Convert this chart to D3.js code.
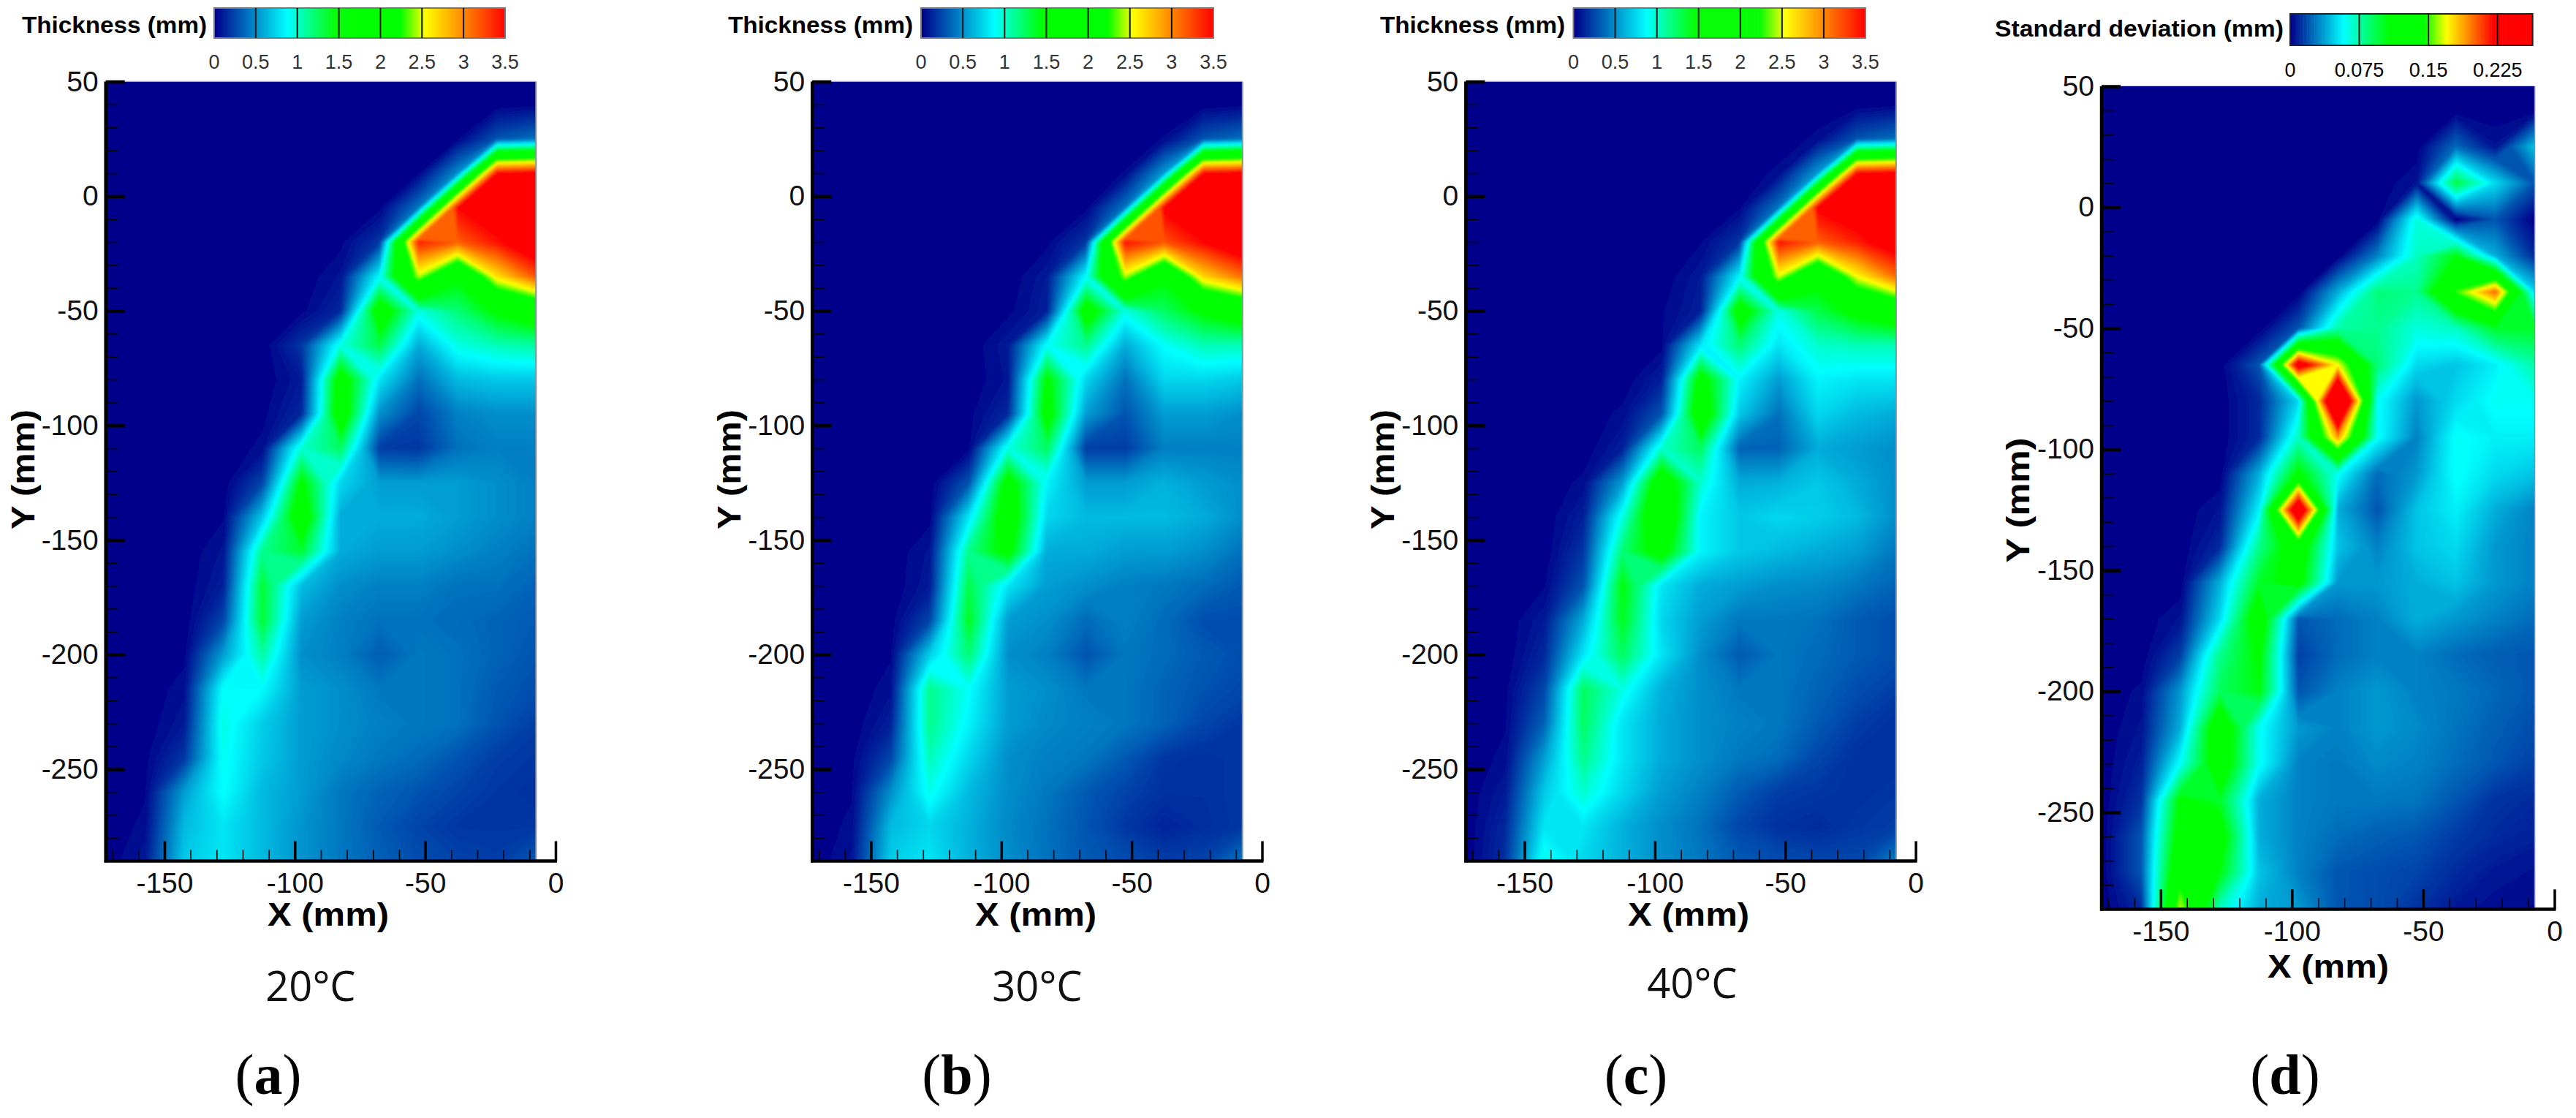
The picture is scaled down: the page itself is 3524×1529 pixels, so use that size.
<!DOCTYPE html>
<html><head><meta charset="utf-8">
<script src="https://cdn.jsdelivr.net/npm/d3@7"></script>
<style>html,body{margin:0;padding:0;background:#fff}svg{display:block}</style>
</head><body><svg id="c" width="3524" height="1529"></svg>
<script>
// Node positions of the measurement grid (mm)
const gridX = [-172.5,-157.5,-142.5,-127.5,-112.5,-97.5,-82.5,-67.5,-52.5,-37.5,-22.5,-7.5];
const gridY = [55,40,25,10,-5,-20,-35,-50,-65,-80,-95,-110,-125,-140,-155,-170,-185,-200,-215,-230,-245,-260,-275,-290];

const thickness20 = [
[0,0,0,0,0,0,0,0,0,0,0,0],
[0,0,0,0,0,0,0,0,0,0,0,.02],
[0,0,0,0,0,0,0,0,0,.03,.3,.4],
[0,0,0,0,0,0,0,0,.03,.5,3.5,3.6],
[0,0,0,0,0,0,0,.02,.42,3.5,3.7,3.8],
[0,0,0,0,0,0,.02,.2,3.4,3.15,3.45,3.8],
[0,0,0,0,0,0,.08,.88,2.45,1.5,2.65,3.2],
[0,0,0,0,0,.02,.15,1.7,.95,1.2,1.5,1.7],
[0,0,0,0,0,.2,.95,1.3,.6,.95,1.05,1.1],
[0,0,0,0,0,.1,1.65,.8,.4,.65,.7,.7],
[0,0,0,0,.02,.15,1.7,.5,.25,.45,.5,.5],
[0,0,0,0,.05,1.0,1.25,.22,.2,.4,.45,.45],
[0,0,0,0,.25,1.5,.75,.55,.55,.55,.5,.45],
[0,0,0,.03,.7,1.7,.6,.6,.6,.55,.5,.45],
[0,0,0,.08,1.15,1.35,.6,.55,.55,.5,.45,.4],
[0,0,0,.12,1.35,.66,.5,.45,.45,.4,.4,.35],
[0,0,0,.25,1.35,.55,.45,.4,.4,.38,.35,.32],
[0,0,.02,.55,1.1,.5,.45,.33,.42,.4,.35,.3],
[0,0,.06,.9,.88,.55,.5,.42,.42,.4,.32,.28],
[0,0,.1,.95,.72,.55,.5,.45,.42,.4,.3,.22],
[0,.02,.2,.92,.7,.55,.48,.42,.38,.3,.22,.2],
[0,.03,.55,.9,.65,.55,.42,.35,.3,.24,.2,.18],
[0,.05,.65,.8,.65,.52,.42,.32,.24,.2,.2,.2],
[0,.1,.7,.8,.65,.52,.42,.34,.28,.24,.22,.32]];

const thickness30 = [
[0,0,0,0,0,0,0,0,0,0,0,0],
[0,0,0,0,0,0,0,0,0,0,0,.02],
[0,0,0,0,0,0,0,0,0,.04,.3,.4],
[0,0,0,0,0,0,0,0,.04,.55,3.5,3.6],
[0,0,0,0,0,0,0,.02,.42,3.55,3.7,3.8],
[0,0,0,0,0,0,.02,.2,3.45,3.2,3.5,3.8],
[0,0,0,0,0,0,.1,.88,2.45,1.5,2.7,3.1],
[0,0,0,0,0,.02,.12,1.65,.95,1.25,1.5,1.7],
[0,0,0,0,0,.1,.9,1.15,.6,.9,1.05,1.05],
[0,0,0,0,0,.08,1.5,.75,.4,.75,.75,.7],
[0,0,0,0,.02,.15,1.6,.55,.3,.55,.55,.5],
[0,0,0,0,.02,.95,1.25,.22,.22,.45,.45,.45],
[0,0,0,0,.3,1.6,.85,.55,.55,.62,.55,.5],
[0,0,0,.02,.8,1.7,.75,.65,.65,.65,.6,.5],
[0,0,0,.08,1.15,1.55,.6,.6,.55,.55,.5,.4],
[0,0,0,.1,1.3,.8,.55,.5,.45,.42,.38,.32],
[0,0,.01,.25,1.4,.55,.5,.38,.45,.38,.28,.28],
[0,0,.03,.72,1.2,.5,.45,.3,.42,.38,.32,.28],
[0,0,.06,1.15,.9,.55,.5,.42,.42,.35,.3,.25],
[0,0,.12,1.15,.85,.55,.48,.45,.42,.35,.25,.2],
[0,.02,.25,1.05,.75,.5,.45,.42,.32,.2,.18,.2],
[0,.03,.5,.93,.65,.5,.42,.32,.24,.18,.18,.2],
[0,.05,.65,.75,.62,.48,.4,.3,.2,.14,.17,.2],
[0,.08,.72,.8,.62,.5,.4,.32,.28,.22,.24,.42]];

const thickness40 = [
[0,0,0,0,0,0,0,0,0,0,0,0],
[0,0,0,0,0,0,0,0,0,0,0,.02],
[0,0,0,0,0,0,0,0,0,.05,.3,.4],
[0,0,0,0,0,0,0,0,.05,.55,3.5,3.6],
[0,0,0,0,0,0,0,.03,.42,3.55,3.7,3.8],
[0,0,0,0,0,0,.03,.2,3.45,3.15,3.4,3.7],
[0,0,0,0,0,0,.1,.85,2.5,1.55,2.55,3.1],
[0,0,0,0,0,.03,.12,1.65,.95,1.3,1.55,1.75],
[0,0,0,0,0,.02,.8,1.2,.8,1.0,1.05,1.05],
[0,0,0,0,0,.12,1.6,.85,.55,.85,.8,.8],
[0,0,0,0,.05,.3,1.75,.7,.4,.75,.65,.6],
[0,0,0,0,.12,1.0,1.25,.35,.35,.6,.55,.5],
[0,0,0,.05,.55,1.75,1.0,.6,.62,.7,.6,.5],
[0,0,0,.12,.95,1.85,.85,.7,.75,.72,.65,.5],
[0,0,0,.2,1.2,1.6,.85,.7,.65,.6,.55,.42],
[0,0,.03,.3,1.45,.8,.6,.55,.5,.48,.42,.35],
[0,0,.1,.6,1.4,.75,.55,.42,.42,.4,.32,.28],
[0,0,.15,.8,1.25,.8,.5,.32,.42,.38,.32,.28],
[0,.02,.25,1.25,.95,.62,.5,.42,.42,.35,.28,.22],
[0,.03,.35,1.25,.8,.6,.5,.45,.42,.32,.22,.18],
[0,.05,.55,1.15,.8,.6,.5,.42,.38,.25,.18,.18],
[0,.1,.7,1.0,.75,.55,.45,.32,.22,.2,.18,.2],
[0,.15,.8,.8,.62,.5,.4,.25,.18,.16,.2,.22],
[0,.18,.95,.75,.62,.5,.42,.32,.28,.25,.25,.45]];

const stdDev = [
[0,0,0,0,0,0,0,0,0,0,0,0],
[0,0,0,0,0,0,0,0,0,0,0,0],
[0,0,0,0,0,0,0,0,0,.025,.005,.045],
[0,0,0,0,0,0,0,0,.005,.095,.05,.02],
[0,0,0,0,0,0,0,0,.065,0,.02,0],
[0,0,0,0,0,0,0,.03,.07,.105,.04,.01],
[0,0,0,0,0,0,.04,.085,.08,.15,.2,.05],
[0,0,0,0,0,.02,.075,.08,.065,.07,.1,.1],
[0,0,0,0,.02,.24,.17,.085,.05,.045,.055,.075],
[0,0,0,0,.01,.05,.3,.06,.035,.05,.06,.06],
[0,0,0,0,.01,.07,.19,.06,.03,.06,.055,.055],
[0,0,0,0,.04,.11,.06,.025,.035,.06,.05,.045],
[0,0,0,.005,.055,.26,.04,.02,.045,.055,.04,.03],
[0,0,0,.01,.08,.125,.045,.03,.045,.05,.035,.03],
[0,0,0,.04,.1,.115,.035,.035,.04,.045,.035,.03],
[0,0,.005,.05,.125,.02,.025,.03,.04,.035,.03,.025],
[0,0,.015,.08,.11,.015,.025,.03,.03,.025,.022,.02],
[0,.003,.035,.09,.105,.02,.03,.035,.03,.028,.024,.02],
[0,.005,.04,.13,.06,.035,.03,.035,.032,.027,.022,.018],
[0,.008,.06,.125,.06,.03,.028,.032,.03,.025,.02,.015],
[0,.012,.11,.1,.04,.03,.028,.028,.027,.02,.012,.01],
[0,.02,.12,.12,.04,.03,.025,.022,.02,.014,.01,.008],
[0,.02,.135,.105,.045,.03,.02,.018,.016,.01,.006,.004],
[0,.01,.165,.07,.04,.035,.02,.018,.012,.006,.003,.002]];

// Colour maps and colour-bar ticks
const thickStops = [0,.875,1.45,2.23,2.53,3.5];
const sdStops = [0,.0575,.107,.145,.169,.22];
const mapColors = ["#00008a","#00ffff","#00ff00","#00ff00","#ffff00","#ff0000"];
const thickTicks = [0,.5,1,1.5,2,2.5,3,3.5];
const sdTicks = [0,.075,.15,.225];
const xMajor = [-150,-100,-50,0];
const yMajor = [50,0,-50,-100,-150,-200,-250];
const xMinor = d3.range(-170,0,10).filter(v=>v%50!==0);
const yMinor = d3.range(40,-290,-10).filter(v=>v%50!==0);

const panels = [
 {data:thickness20,stops:thickStops,ticks:thickTicks,barMax:3.5,title:"Thickness (mm)",cap:"20°C",tag:"a",
  x0:144.7,xz:760,y50:111.6,ym250:1052,barL:293,barR:691,barT:11,barB:52,titleL:30,titleW:253,titleY:45,tickY:94,
  ylabX:47,ylabY:642,ylabL:164,xlabX:449,xlabY:1266,xtY:1221,capX:425,capY:1369,tagX:367,blur:1.8},
 {data:thickness30,stops:thickStops,ticks:thickTicks,barMax:3.5,title:"Thickness (mm)",cap:"30°C",tag:"b",
  x0:1111.2,xz:1726.5,y50:111.6,ym250:1052,barL:1260,barR:1660,barT:11,barB:52,titleL:996,titleW:253,titleY:45,tickY:94,
  ylabX:1013,ylabY:642,ylabL:164,xlabX:1417,xlabY:1266,xtY:1221,capX:1419,capY:1369,tagX:1309,blur:1.8},
 {data:thickness40,stops:thickStops,ticks:thickTicks,barMax:3.5,title:"Thickness (mm)",cap:"40°C",tag:"c",
  x0:2005.3,xz:2620.6,y50:111.6,ym250:1052,barL:2152.5,barR:2552,barT:11,barB:52,titleL:1888,titleW:253,titleY:45,tickY:94,
  ylabX:1907,ylabY:642,ylabL:164,xlabX:2310,xlabY:1266,xtY:1221,capX:2315,capY:1365,tagX:2238,blur:1.8},
 {data:stdDev,stops:sdStops,ticks:sdTicks,barMax:.263,title:"Standard deviation (mm)",cap:null,tag:"d",
  x0:2875,xz:3494.5,y50:118,ym250:1111,barL:3133,barR:3464.6,barT:19,barB:62,titleL:2729,titleW:395,titleY:50,tickY:105,
  ylabX:2776,ylabY:684,ylabL:171,xlabX:3185,xlabY:1337,xtY:1287,capX:0,capY:0,tagX:3126,blur:1}
];

const svg = d3.select("#c");
const defs = svg.append("defs");
const SANS = "'Liberation Sans',Arial,sans-serif";

panels.forEach((p,pi)=>{
  const g = svg.append("g");
  const x = d3.scaleLinear().domain([-172.5,0]).range([p.x0,p.xz]);
  const y = d3.scaleLinear().domain([50,-250]).range([p.y50,p.ym250]);
  const color = d3.scaleLinear().domain(p.stops).range(mapColors).clamp(true);

  const W = gridX.length, H = gridY.length;
  const values = p.data.flat();
  const top = p.stops[p.stops.length-1];
  const LEVELS = 300;
  const thresholds = d3.range(1,LEVELS+1).map(i=>top*i/LEVELS*1.02);
  const contours = d3.contours().size([W,H]).thresholds(thresholds)(values);
  const dx = gridX[1]-gridX[0], dy = gridY[1]-gridY[0];
  const path = d3.geoPath(d3.geoTransform({point(cx,cy){
    this.stream.point(x(gridX[0]+(cx-.5)*dx), y(gridY[0]+(cy-.5)*dy));
  }}));
  const yBottom = y(-290), xRight = x(-7.5);

  defs.append("clipPath").attr("id","clip"+pi).append("rect")
    .attr("x",p.x0).attr("y",p.y50).attr("width",xRight-p.x0).attr("height",yBottom-p.y50);
  defs.append("filter").attr("id","blur"+pi).attr("filterUnits","userSpaceOnUse")
    .attr("x",p.x0-40).attr("y",p.y50-40).attr("width",xRight-p.x0+80).attr("height",yBottom-p.y50+80)
    .append("feGaussianBlur").attr("stdDeviation",p.blur);

  const plot = g.append("g").attr("clip-path",`url(#clip${pi})`).append("g").attr("filter",`url(#blur${pi})`);
  plot.append("rect").attr("x",p.x0-30).attr("y",p.y50-30).attr("width",xRight-p.x0+60).attr("height",yBottom-p.y50+60).attr("fill",color(0));
  plot.selectAll("path").data(contours).join("path").attr("d",path)
    .attr("fill",(d,i)=>color(d.value-(thresholds[1]-thresholds[0])/2)).attr("stroke","none");

  // thin frame on the right and top edge
  g.append("line").attr("x1",xRight).attr("x2",xRight).attr("y1",p.y50).attr("y2",yBottom).attr("stroke","#8a8f99").attr("stroke-width",pi==3?1.5:2);
  g.append("line").attr("x1",p.x0).attr("x2",xRight).attr("y1",p.y50-.5).attr("y2",p.y50-.5).attr("stroke","#c4c8e0").attr("stroke-width",1);

  // axes
  const styleAxis = sel=>{
    sel.selectAll("text").attr("font-family",SANS).attr("font-size",39).attr("fill","#111");
    sel.select(".domain").remove();
  };
  g.append("g").attr("transform",`translate(${p.x0},0)`)
    .call(d3.axisLeft(y).tickValues(yMinor).tickSize(-17).tickFormat(""))
    .call(s=>{s.select(".domain").remove();s.selectAll("line").attr("stroke","#000").attr("stroke-width",1.6);});
  g.append("g").attr("transform",`translate(${p.x0},0)`)
    .call(d3.axisLeft(y).tickValues(yMajor).tickSize(-26).tickPadding(10).tickFormat(String))
    .call(styleAxis).call(s=>s.selectAll("line").attr("stroke","#000").attr("stroke-width",4.5));
  g.append("g").attr("transform",`translate(0,${yBottom})`)
    .call(d3.axisBottom(x).tickValues(xMinor).tickSize(-15).tickFormat(""))
    .call(s=>{s.select(".domain").remove();s.selectAll("line").attr("stroke","#000").attr("stroke-width",1.6);});
  g.append("g").attr("transform",`translate(0,${yBottom})`)
    .call(d3.axisBottom(x).tickValues(xMajor).tickSize(-27).tickPadding(p.xtY-yBottom-28).tickFormat(String))
    .call(styleAxis).call(s=>s.selectAll("line").attr("stroke","#000").attr("stroke-width",3.5));
  g.append("line").attr("x1",p.x0).attr("x2",p.x0).attr("y1",p.y50).attr("y2",yBottom+2).attr("stroke","#000").attr("stroke-width",4.5);
  g.append("line").attr("x1",p.x0-2).attr("x2",p.xz+2).attr("y1",yBottom).attr("y2",yBottom).attr("stroke","#000").attr("stroke-width",4.5);

  // axis titles
  g.append("text").attr("x",p.xlabX).attr("y",p.xlabY).attr("text-anchor","middle")
    .attr("font-family",SANS).attr("font-weight","bold").attr("font-size",44)
    .attr("textLength",166).attr("lengthAdjust","spacingAndGlyphs").text("X (mm)");
  g.append("text").attr("transform",`translate(${p.ylabX},${p.ylabY}) rotate(-90)`).attr("text-anchor","middle")
    .attr("font-family",SANS).attr("font-weight","bold").attr("font-size",44)
    .attr("textLength",p.ylabL).attr("lengthAdjust","spacingAndGlyphs").text("Y (mm)");

  // colour bar
  const bar = d3.scaleLinear().domain([0,p.barMax]).range([p.barL,p.barR]);
  const steps = d3.range(0,p.barMax,p.barMax/200);
  g.append("g").selectAll("rect").data(steps).join("rect")
    .attr("x",d=>bar(d)).attr("width",(p.barR-p.barL)/200+.6).attr("y",p.barT).attr("height",p.barB-p.barT)
    .attr("fill",d=>color(d));
  g.append("rect").attr("x",p.barL).attr("y",p.barT).attr("width",p.barR-p.barL).attr("height",p.barB-p.barT)
    .attr("fill","none").attr("stroke",pi==3?"#222":"#777").attr("stroke-width",2);
  g.append("g").selectAll("line").data(p.ticks.slice(1).filter(v=>v<p.barMax)).join("line")
    .attr("x1",d=>bar(d)).attr("x2",d=>bar(d)).attr("y1",p.barT).attr("y2",p.barB)
    .attr("stroke","#111").attr("stroke-width",2);
  g.append("g").selectAll("text").data(p.ticks).join("text")
    .attr("x",d=>bar(d)).attr("y",p.tickY).attr("text-anchor","middle")
    .attr("font-family",SANS).attr("font-size",27).attr("fill",pi==3?"#000":"#333")
    .text(d=>String(d));
  g.append("text").attr("x",p.titleL).attr("y",p.titleY)
    .attr("font-family",SANS).attr("font-weight","bold").attr("font-size",32)
    .attr("textLength",p.titleW).attr("lengthAdjust","spacingAndGlyphs").text(p.title);

  // captions
  if(p.cap) g.append("text").attr("x",p.capX).attr("y",p.capY).attr("text-anchor","middle")
    .attr("font-family","'Open Sans',sans-serif").attr("font-size",56).attr("fill","#111").text(p.cap);
  const t = g.append("text").attr("x",p.tagX).attr("y",1496).attr("text-anchor","middle")
    .attr("font-family","'Liberation Serif',serif").attr("font-size",78).attr("fill","#000");
  t.append("tspan").text("(");
  t.append("tspan").attr("font-weight","bold").text(p.tag);
  t.append("tspan").text(")");
});
</script></body></html>
